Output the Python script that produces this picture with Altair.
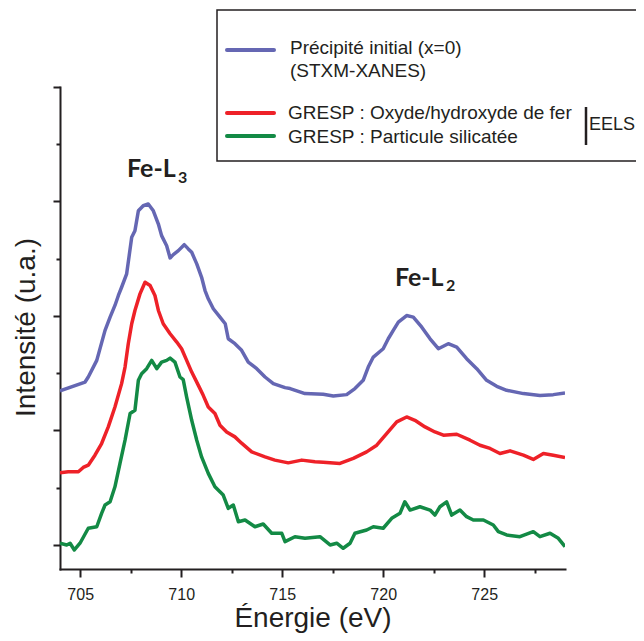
import altair as alt
import pandas as pd

# ---------------- data ----------------
series_labels = ["Précipité initial (x=0)", "GRESP : Oxyde/hydroxyde de fer", "GRESP : Particule silicatée"]
series_colors = ["#6567B3", "#EE2128", "#138A45"]
legend_sub = "(STXM-XANES)"
legend_group = "EELS"

blue_energy = [704.0, 705.24, 705.40, 705.82, 706.23, 706.48, 706.72, 706.89, 707.05, 707.30,
               707.55, 707.71, 707.88, 708.12, 708.37, 708.62, 708.87, 709.03, 709.28, 709.45,
               709.61, 709.86, 710.15, 710.35, 710.52, 710.77, 711.01, 711.18, 711.34, 711.59,
               711.92, 712.18, 712.33, 712.66, 712.99, 713.32, 713.74, 714.15, 714.56, 715.14,
               715.39, 716.13, 717.03, 717.53, 718.19, 718.60, 719.01, 719.26, 719.51, 720.00,
               720.25, 720.50, 720.75, 721.16, 721.49, 721.91, 722.32, 722.73, 723.22, 723.64,
               724.13, 724.63, 725.12, 725.62, 726.11, 726.94, 727.76, 728.42, 729.0]
blue_intensity = [1.345, 1.423, 1.467, 1.612, 1.874, 1.990, 2.092, 2.179, 2.251, 2.368,
                  2.687, 2.745, 2.919, 2.963, 2.978, 2.919, 2.803, 2.702, 2.614, 2.507,
                  2.536, 2.571, 2.623, 2.586, 2.556, 2.455, 2.338, 2.222, 2.150, 2.063,
                  1.990, 1.932, 1.801, 1.758, 1.700, 1.597, 1.540, 1.467, 1.409, 1.374,
                  1.366, 1.322, 1.316, 1.301, 1.313, 1.366, 1.438, 1.554, 1.641, 1.714,
                  1.801, 1.874, 1.946, 2.004, 1.990, 1.902, 1.801, 1.714, 1.758, 1.728,
                  1.627, 1.540, 1.438, 1.386, 1.351, 1.322, 1.305, 1.313, 1.327]

red_energy = [704.0, 704.41, 704.91, 705.15, 705.40, 705.73, 706.06, 706.39, 706.72, 707.05,
              707.22, 707.38, 707.55, 707.71, 707.96, 708.21, 708.46, 708.70, 708.87, 709.11,
              709.45, 709.78, 710.02, 710.27, 710.52, 710.85, 711.09, 711.34, 711.67, 711.92,
              712.25, 712.66, 712.99, 713.49, 714.15, 714.64, 715.30, 715.97, 716.62, 717.03,
              717.86, 718.52, 719.18, 719.68, 720.17, 720.67, 721.16, 721.57, 722.07, 722.56,
              722.98, 723.64, 724.30, 724.79, 725.29, 725.78, 726.28, 726.94, 727.43, 727.93,
              728.42, 729.0]
red_intensity = [0.630, 0.639, 0.639, 0.677, 0.697, 0.784, 0.886, 1.031, 1.205, 1.409,
                 1.554, 1.758, 1.932, 2.048, 2.193, 2.295, 2.266, 2.179, 2.048, 1.932,
                 1.845, 1.772, 1.714, 1.612, 1.510, 1.394, 1.307, 1.205, 1.148, 1.046,
                 0.987, 0.944, 0.889, 0.813, 0.769, 0.741, 0.717, 0.741, 0.726, 0.723,
                 0.712, 0.756, 0.813, 0.871, 0.973, 1.075, 1.118, 1.089, 1.031, 0.987,
                 0.959, 0.967, 0.915, 0.871, 0.843, 0.799, 0.822, 0.784, 0.747, 0.799,
                 0.784, 0.764]

green_energy = [704.0, 704.33, 704.50, 704.71, 704.99, 705.40, 705.82, 706.06, 706.23, 706.48,
                706.72, 706.97, 707.22, 707.47, 707.71, 707.88, 708.04, 708.29, 708.54, 708.79,
                709.03, 709.28, 709.45, 709.69, 709.94, 710.10, 710.27, 710.52, 710.77, 711.01,
                711.34, 711.67, 712.08, 712.33, 712.58, 712.83, 713.16, 713.65, 714.06, 714.48,
                714.98, 715.14, 715.63, 716.13, 716.87, 717.37, 717.70, 718.02, 718.36, 718.60,
                719.18, 719.51, 720.00, 720.42, 720.83, 721.07, 721.33, 721.82, 722.32, 722.56,
                722.81, 723.14, 723.39, 723.80, 724.13, 724.46, 724.96, 725.45, 725.70, 726.11,
                726.77, 727.43, 727.76, 728.26, 728.67, 729.0]
green_intensity = [0.015, 0.000, 0.015, -0.044, 0.015, 0.146, 0.159, 0.276, 0.349, 0.377,
                   0.508, 0.712, 0.915, 1.148, 1.176, 1.438, 1.496, 1.540, 1.612, 1.540,
                   1.597, 1.612, 1.632, 1.597, 1.467, 1.444, 1.292, 1.089, 0.915, 0.769,
                   0.625, 0.508, 0.436, 0.320, 0.349, 0.203, 0.218, 0.159, 0.183, 0.102,
                   0.102, 0.029, 0.072, 0.058, 0.072, 0.000, 0.015, -0.029, 0.015, 0.102,
                   0.131, 0.159, 0.146, 0.233, 0.276, 0.377, 0.305, 0.334, 0.305, 0.261,
                   0.334, 0.377, 0.261, 0.305, 0.247, 0.218, 0.218, 0.174, 0.116, 0.087,
                   0.072, 0.116, 0.072, 0.102, 0.058, -0.015]

x_major = [705, 710, 715, 720, 725]
x_minor = [707.5, 712.5, 717.5, 722.5, 727.5]
y_major = [0, 1, 2, 3, 4]
y_minor = [0.5, 1.5, 2.5, 3.5]

peak_labels = ["Fe-L", "Fe-L"]
peak_subs = ["3", "2"]
peak_energy = [707.32, 720.58]
peak_intensity = [3.216, 2.266]
sub_energy = [709.84, 723.11]
sub_intensity = [3.163, 2.222]

# ---------------- tables ----------------
rows = []
for name, es, vs in zip(series_labels, [blue_energy, red_energy, green_energy],
                        [blue_intensity, red_intensity, green_intensity]):
    for i, (e, v) in enumerate(zip(es, vs)):
        rows.append({"series": name, "energy": e, "intensity": v, "idx": i})
df = pd.DataFrame(rows)

ann = pd.DataFrame({"label": peak_labels, "energy": peak_energy, "intensity": peak_intensity})
sub = pd.DataFrame({"label": peak_subs, "energy": sub_energy, "intensity": sub_intensity})

INK = "#231F20"
FONT = "Liberation Sans"
xscale = alt.Scale(domain=[704, 729], nice=False, zero=False)
yscale = alt.Scale(domain=[-0.21, 4.0], nice=False, zero=False)

curves = alt.Chart(df).mark_line(strokeWidth=3.5, strokeJoin="round", clip=True).encode(
    x=alt.X("energy:Q", scale=xscale,
            axis=alt.Axis(values=x_major, format="d", tickSize=8, labelFontSize=16,
                          labelFont=FONT, labelColor=INK, labelPadding=9,
                          title="Énergie (eV)", titleFontSize=28, titleFont=FONT,
                          titleFontWeight="normal", titleColor=INK, titleBaseline="alphabetic",
                          titleY=57, orient="bottom", grid=False)),
    y=alt.Y("intensity:Q", scale=yscale,
            axis=alt.Axis(values=y_major, labels=False, tickSize=7,
                          title="Intensité (u.a.)", titleFontSize=28, titleFont=FONT,
                          titleFontWeight="normal", titleColor=INK, titleAngle=270,
                          titleBaseline="alphabetic", titleAlign="center",
                          titleX=-26, titleY=240, orient="left", grid=False)),
    color=alt.Color("series:N", scale=alt.Scale(domain=series_labels, range=series_colors), legend=None),
    order="idx:Q",
)

# minor ticks layer (also carries peak labels)
peaks = alt.Chart(ann).mark_text(align="left", baseline="alphabetic", font="Lato",
                                 fontWeight="bold", fontSize=25, color=INK).encode(
    x=alt.X("energy:Q", scale=xscale,
            axis=alt.Axis(values=x_minor, labels=False, tickSize=4, domain=False,
                          title=None, orient="bottom", grid=False)),
    y=alt.Y("intensity:Q", scale=yscale,
            axis=alt.Axis(values=y_minor, labels=False, tickSize=4, domain=False,
                          title=None, orient="left", grid=False)),
    text="label:N",
)
subs = alt.Chart(sub).mark_text(align="left", baseline="alphabetic", font="Lato",
                                fontWeight="bold", fontSize=16, color=INK).encode(
    x=alt.X("energy:Q", scale=xscale, axis=None),
    y=alt.Y("intensity:Q", scale=yscale, axis=None),
    text="label:N",
)

one = alt.Data(values=[{"k": 1}])
box = alt.Chart(one).mark_rect(fill="white", stroke=INK, strokeWidth=1.5).encode(
    x=alt.value(157), x2=alt.value(640), y=alt.value(-77), y2=alt.value(74))

def leg_line(color, y):
    return alt.Chart(one).mark_rule(strokeWidth=4, strokeCap="round", color=color).encode(
        x=alt.value(167), x2=alt.value(214), y=alt.value(y))

def leg_text(txt, x, y, size=19):
    return alt.Chart(one).mark_text(align="left", baseline="alphabetic", fontSize=size,
                                    font=FONT, color=INK).encode(
        x=alt.value(x), y=alt.value(y), text=alt.value(txt))

bar = alt.Chart(one).mark_rule(strokeWidth=2.5, color=INK).encode(
    x=alt.value(526), y=alt.value(20), y2=alt.value(58))

chart = alt.layer(
    curves, peaks, subs, box,
    leg_line(series_colors[0], -37), leg_line(series_colors[1], 26), leg_line(series_colors[2], 49),
    leg_text(series_labels[0], 230, -33), leg_text(legend_sub, 230, -10),
    leg_text(series_labels[1], 228, 32), leg_text(series_labels[2], 228, 56),
    bar, leg_text(legend_group, 529, 43, 18),
).resolve_axis(x="independent", y="independent").properties(
    width=505, height=482, autosize="none",
    padding={"left": 52, "top": 79, "right": 71, "bottom": 64},
).configure_view(stroke=None).configure_axis(
    domainColor=INK, domainWidth=2, tickColor=INK, tickWidth=2, domainCap="square"
)

chart.save("out.html", embed_options={"renderer": "svg", "actions": False})
